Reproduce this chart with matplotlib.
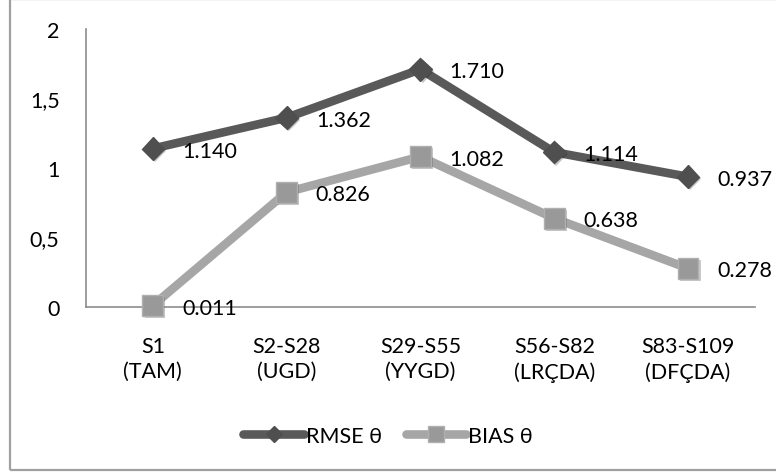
import matplotlib
matplotlib.use('Agg')
import matplotlib.pyplot as plt
import matplotlib.patheffects as pe
from matplotlib.patches import Rectangle

plt.rcParams['font.family'] = ['Lato', 'DejaVu Sans']

categories = ['S1\n(TAM)', 'S2-S28\n(UGD)', 'S29-S55\n(YYGD)', 'S56-S82\n(LRÇDA)', 'S83-S109\n(DFÇDA)']
rmse = [1.140, 1.362, 1.710, 1.114, 0.937]
bias = [0.011, 0.826, 1.082, 0.638, 0.278]
yticks = [0, 0.5, 1, 1.5, 2]
ytick_labels = ['0', '0,5', '1', '1,5', '2']

dark = '#595959'
light = '#a6a6a6'
fs = 15.5

fig = plt.figure(figsize=(7.76, 4.77), dpi=100)
ax = fig.add_axes([0.1108, 0.3543, 0.862, 0.5828])

# outer chart border (left/top/bottom, right side is clipped)
fig.patches.append(Rectangle((10 / 776, 1 - 471 / 477), 0.99, 471 / 477 - 0.001,
                             transform=fig.transFigure, fill=False,
                             edgecolor='#a0a0a0', linewidth=1.6, zorder=0))

x = list(range(len(categories)))
shadow = [pe.SimplePatchShadow(offset=(1.5, -1.5), alpha=0.25), pe.Normal()]

ax.plot(x, rmse, color=dark, linewidth=6.2, solid_capstyle='round', zorder=3, clip_on=False)
ax.plot(x, rmse, linestyle='none', marker='D', markersize=11.5,
        markerfacecolor='#4f4f4f', markeredgecolor='#4f4f4f', zorder=4,
        path_effects=shadow, clip_on=False)
ax.plot(x, bias, color=light, linewidth=6.2, solid_capstyle='round', zorder=3, clip_on=False)
ax.plot(x, bias, linestyle='none', marker='s', markersize=15,
        markerfacecolor='#999999', markeredgecolor='#b0b0b0', markeredgewidth=1,
        zorder=4, path_effects=shadow, clip_on=False)

for xi, v in zip(x, rmse):
    ax.annotate(f'{v:.3f}', (xi, v), xytext=(21, -1.5), textcoords='offset points',
                ha='left', va='center', fontsize=fs, color='black', zorder=5)
for xi, v in zip(x, bias):
    ax.annotate(f'{v:.3f}', (xi, v), xytext=(21, -1.5), textcoords='offset points',
                ha='left', va='center', fontsize=fs, color='black', zorder=5)

ax.set_xlim(-0.5, 4.5)
ax.set_ylim(0, 2)
ax.set_xticks(x)
ax.set_xticklabels(categories, fontsize=fs, linespacing=1.3)
ax.set_yticks(yticks)
ax.set_yticklabels(ytick_labels, fontsize=fs)
ax.tick_params(axis='both', length=0)
ax.tick_params(axis='y', pad=19)
ax.tick_params(axis='x', pad=21)

for s in ['top', 'right']:
    ax.spines[s].set_visible(False)
for s in ['left', 'bottom']:
    ax.spines[s].set_color('#8c8c8c')
    ax.spines[s].set_linewidth(1.2)
ax.patch.set_alpha(0)

# legend
h1, = ax.plot([], [], color=dark, linewidth=6.2, marker='D', markersize=8,
              markerfacecolor='#4f4f4f', markeredgecolor='#4f4f4f', solid_capstyle='round')
h2, = ax.plot([], [], color=light, linewidth=6.2, marker='s', markersize=11,
              markerfacecolor='#999999', markeredgecolor='#b0b0b0', solid_capstyle='round')
fig.legend([h1, h2], ['RMSE θ', 'BIAS θ'], loc='center', bbox_to_anchor=(0.5, 1 - 437 / 477),
           ncol=2, frameon=False, fontsize=fs, handlelength=2.8, handletextpad=0.1,
           columnspacing=1.1)

fig.savefig('out.png', dpi=100)
